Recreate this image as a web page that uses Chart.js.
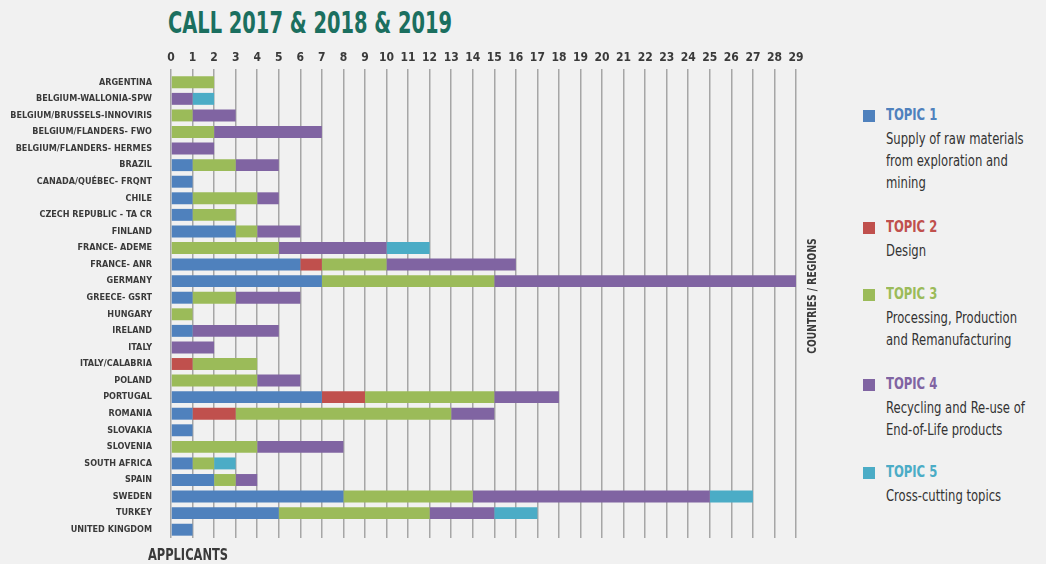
<!DOCTYPE html>
<html>
<head>
<meta charset="utf-8">
<script src="https://cdn.jsdelivr.net/npm/chart.js@4"></script>
<style>
  html, body { margin: 0; padding: 0; background: #f1f1f1; }
  body { width: 1046px; height: 564px; position: relative; overflow: hidden;
         font-family: "DejaVu Sans Condensed", "Liberation Sans Narrow", "Roboto", sans-serif; }
  #title { position: absolute; left: 168px; top: 5px; font-size: 30px; font-weight: bold;
           color: #1b6f5f; white-space: nowrap; transform: scaleX(0.72); transform-origin: left top; }
  #wrap { position: absolute; left: 0; top: 40px; width: 830px; height: 524px; }
  .leg { position: absolute; left: 863px; }
  .leg .box { position: absolute; left: 0; top: 4px; width: 12px; height: 12px; }
  .leg .name, .leg .desc { position: absolute; left: 23px; white-space: nowrap;
                           transform: scaleX(0.86); transform-origin: left top; }
  .leg .name { top: 0; font-size: 15px; font-weight: bold; }
  .leg .desc { top: 22px; font-size: 15px; line-height: 22px; color: #333; }
</style>
</head>
<body>
<div id="title">CALL 2017 &amp; 2018 &amp; 2019</div>
<div id="wrap"><canvas id="chart"></canvas></div>
<div id="legend"></div>
<script>
const countries = [
  'ARGENTINA', 'BELGIUM-WALLONIA-SPW', 'BELGIUM/BRUSSELS-INNOVIRIS', 'BELGIUM/FLANDERS- FWO',
  'BELGIUM/FLANDERS- HERMES', 'BRAZIL', 'CANADA/QUÉBEC- FRQNT', 'CHILE', 'CZECH REPUBLIC - TA CR',
  'FINLAND', 'FRANCE- ADEME', 'FRANCE- ANR', 'GERMANY', 'GREECE- GSRT', 'HUNGARY', 'IRELAND',
  'ITALY', 'ITALY/CALABRIA', 'POLAND', 'PORTUGAL', 'ROMANIA', 'SLOVAKIA', 'SLOVENIA',
  'SOUTH AFRICA', 'SPAIN', 'SWEDEN', 'TURKEY', 'UNITED KINGDOM'
];

const topic1 = [0,0,0,0,0,1,1,1,1,3,0,6,7,1,0,1,0,0,0,7,1,1,0,1,2,8,5,1];
const topic2 = [0,0,0,0,0,0,0,0,0,0,0,1,0,0,0,0,0,1,0,2,2,0,0,0,0,0,0,0];
const topic3 = [2,0,1,2,0,2,0,3,2,1,5,3,8,2,1,0,0,3,4,6,10,0,4,1,1,6,7,0];
const topic4 = [0,1,2,5,2,2,0,1,0,2,5,6,14,3,0,4,2,0,2,3,2,0,4,0,1,11,3,0];
const topic5 = [0,1,0,0,0,0,0,0,0,0,2,0,0,0,0,0,0,0,0,0,0,0,0,1,0,2,2,0];

const topicNames = ['TOPIC 1', 'TOPIC 2', 'TOPIC 3', 'TOPIC 4', 'TOPIC 5'];
const topicDescs = [
  ['Supply of raw materials', 'from exploration and', 'mining'],
  ['Design'],
  ['Processing, Production', 'and Remanufacturing'],
  ['Recycling and Re-use of', 'End-of-Life products'],
  ['Cross-cutting topics']
];
const topicColors = ['#4f81bd', '#c0504d', '#9bbb59', '#8064a2', '#4bacc6'];
const legendTops = [106, 218, 285, 375, 463];

const FONT = '"DejaVu Sans Condensed", "Liberation Sans Narrow", sans-serif';

// legend (html)
const legendEl = document.getElementById('legend');
topicNames.forEach((name, i) => {
  const d = document.createElement('div');
  d.className = 'leg';
  d.style.top = legendTops[i] + 'px';
  d.innerHTML = `<div class="box" style="background:${topicColors[i]}"></div>` +
    `<div class="name" style="color:${topicColors[i]}">${name}</div>` +
    `<div class="desc">${topicDescs[i].join('<br>')}</div>`;
  legendEl.appendChild(d);
});

const series = [topic1, topic2, topic3, topic4, topic5];

const extraText = {
  id: 'extraText',
  afterDraw(chart) {
    const ctx = chart.ctx;
    ctx.save();
    ctx.fillStyle = '#3a3a3a';
    ctx.font = 'bold 12px ' + FONT;
    ctx.textAlign = 'center';
    ctx.textBaseline = 'middle';
    ctx.translate(813, 256);
    ctx.rotate(-Math.PI / 2);
    ctx.scale(0.85, 1);
    ctx.fillText('COUNTRIES / REGIONS', 0, 0);
    ctx.restore();

    ctx.save();
    ctx.fillStyle = '#3a3a3a';
    ctx.font = 'bold 15px ' + FONT;
    ctx.textAlign = 'center';
    ctx.textBaseline = 'middle';
    ctx.translate(188, 516);
    ctx.scale(0.85, 1);
    ctx.fillText('APPLICANTS', 0, 0);
    ctx.restore();
  }
};

new Chart(document.getElementById('chart'), {
  type: 'bar',
  data: {
    labels: countries,
    datasets: series.map((vals, i) => ({
      label: topicNames[i],
      data: vals,
      backgroundColor: topicColors[i],
      borderWidth: 0,
      barPercentage: 0.8,
      categoryPercentage: 0.9
    }))
  },
  options: {
    indexAxis: 'y',
    responsive: true,
    maintainAspectRatio: false,
    animation: false,
    layout: { padding: { left: 0, right: 34, top: 0, bottom: 26 } },
    plugins: { legend: { display: false }, tooltip: { enabled: false } },
    scales: {
      x: {
        position: 'top',
        stacked: true,
        min: 0,
        max: 29,
        ticks: { stepSize: 1, autoSkip: false, maxRotation: 0, minRotation: 0,
                 color: '#3a3a3a', font: { family: FONT, size: 12, weight: 'bold' }, padding: 4 },
        grid: { color: '#a6a6a6', lineWidth: 1.5, tickLength: 5 },
        border: { display: false },
        afterFit(scale) { scale.height = 34; }
      },
      y: {
        stacked: true,
        ticks: { color: '#3a3a3a', font: { family: FONT, size: 9, weight: 'bold' }, padding: 11, autoSkip: false },
        grid: { display: false },
        border: { display: false },
        afterFit(scale) { scale.width = 171; }
      }
    }
  },
  plugins: [extraText]
});
</script>
</body>
</html>
